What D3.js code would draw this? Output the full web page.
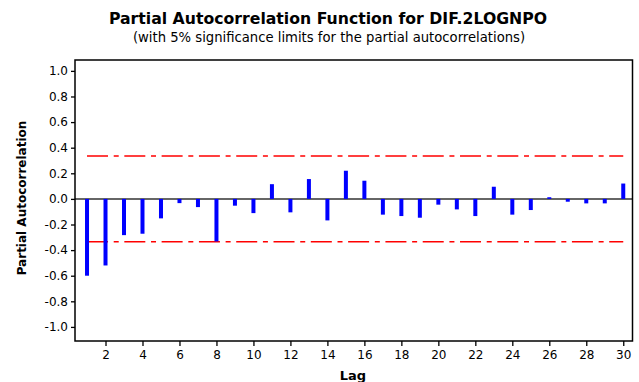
<!DOCTYPE html>
<html>
<head>
<meta charset="utf-8">
<script src="https://cdn.jsdelivr.net/npm/d3@7"></script>
<style>
  html, body { margin: 0; padding: 0; background: #fff; }
  svg { display: block; }
</style>
</head>
<body>
<svg id="chart" width="639" height="382"></svg>
<script>
// ---- data ----
const lags = d3.range(1, 31);
const pacf = [-0.60, -0.52, -0.283, -0.272, -0.152, -0.033, -0.064, -0.332, -0.053, -0.111,
               0.115, -0.105, 0.155, -0.168, 0.22, 0.142, -0.123, -0.134, -0.147, -0.045,
              -0.082, -0.134, 0.095, -0.123, -0.087, 0.013, -0.022, -0.035, -0.035, 0.12];
const sigLimit = 0.335;
const yTicks = [-1.0, -0.8, -0.6, -0.4, -0.2, 0.0, 0.2, 0.4, 0.6, 0.8, 1.0];
const xTicks = [2, 4, 6, 8, 10, 12, 14, 16, 18, 20, 22, 24, 26, 28, 30];
const titleText = "Partial Autocorrelation Function for DIF.2LOGNPO";
const subtitleText = "(with 5% significance limits for the partial autocorrelations)";
const yLabel = "Partial Autocorrelation";
const xLabel = "Lag";

// ---- layout ----
const L = 75, R = 632.5, T = 60, B = 341;
const svg = d3.select("#chart");

const x = d3.scaleLinear().domain([0.35, 30.5]).range([L, R]);
const y = d3.scaleLinear().domain([-1.11, 1.085]).range([B, T]);

// titles
svg.append("text").attr("x", 328).attr("y", 24).attr("text-anchor", "middle")
  .attr("font-family", "DejaVu Sans").attr("font-weight", "bold").attr("font-size", 15.7)
  .attr("fill", "#000").text(titleText);
svg.append("text").attr("x", 329).attr("y", 42).attr("text-anchor", "middle")
  .attr("font-family", "DejaVu Sans").attr("font-size", 13.2)
  .attr("fill", "#000").text(subtitleText);

// significance limits
const sig = svg.append("g");
[sigLimit, -sigLimit].forEach(v => {
  sig.append("line")
    .attr("x1", x(1)).attr("x2", x(30))
    .attr("y1", y(v)).attr("y2", y(v))
    .attr("stroke", "#ff0000").attr("stroke-width", 1.5)
    .attr("stroke-dasharray", "21,5.7,5,5.6");
});

// zero line
svg.append("line").attr("x1", L).attr("x2", R).attr("y1", y(0)).attr("y2", y(0))
  .attr("stroke", "#333").attr("stroke-width", 1.5);

// bars
svg.append("g").selectAll("rect").data(lags).join("rect")
  .attr("x", d => x(d) - 2)
  .attr("width", 4)
  .attr("y", (d, i) => y(Math.max(0, pacf[i])))
  .attr("height", (d, i) => Math.abs(y(pacf[i]) - y(0)))
  .attr("fill", "#0000ff");

// frame
svg.append("rect").attr("x", L).attr("y", T).attr("width", R - L).attr("height", B - T)
  .attr("fill", "none").attr("stroke", "#000").attr("stroke-width", 1.5);

// axes
const yAxis = d3.axisLeft(y).tickValues(yTicks).tickFormat(d3.format(".1f")).tickSize(4).tickPadding(3);
const gy = svg.append("g").attr("transform", `translate(${L},0)`).call(yAxis);
gy.select(".domain").remove();
gy.selectAll("text").attr("font-family", "DejaVu Sans").attr("font-size", 12).attr("fill", "#000")
  .text(d => d3.format(".1f")(d).replace("−", "-"));
gy.selectAll("line").attr("stroke", "#000").attr("stroke-width", 1.3);

const xAxis = d3.axisBottom(x).tickValues(xTicks).tickFormat(d3.format("d")).tickSize(5).tickPadding(4);
const gx = svg.append("g").attr("transform", `translate(0,${B})`).call(xAxis);
gx.select(".domain").remove();
gx.selectAll("text").attr("font-family", "DejaVu Sans").attr("font-size", 12).attr("fill", "#000");
gx.selectAll("line").attr("stroke", "#000").attr("stroke-width", 1.3);

// axis labels
svg.append("text").attr("x", 353).attr("y", 380).attr("text-anchor", "middle")
  .attr("font-family", "DejaVu Sans").attr("font-weight", "bold").attr("font-size", 13)
  .attr("fill", "#000").text(xLabel);
svg.append("text").attr("transform", "translate(26,198) rotate(-90)").attr("text-anchor", "middle")
  .attr("font-family", "DejaVu Sans").attr("font-weight", "bold").attr("font-size", 12)
  .attr("fill", "#000").text(yLabel);
</script>
</body>
</html>
